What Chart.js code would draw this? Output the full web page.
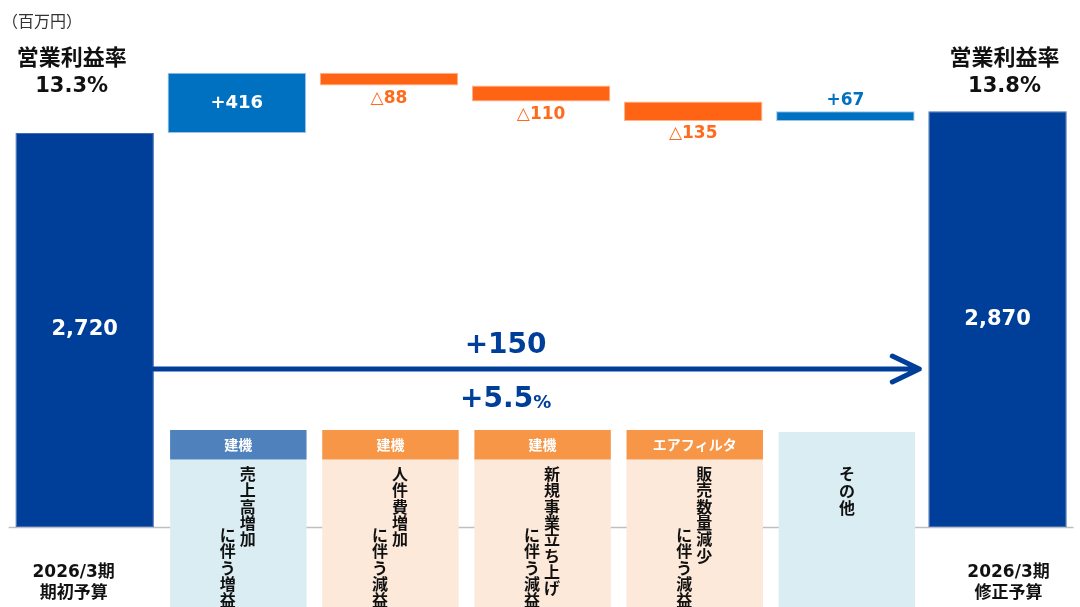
<!DOCTYPE html>
<html lang="ja">
<head>
<meta charset="utf-8">
<title>営業利益 増減要因</title>
<script src="https://cdn.jsdelivr.net/npm/chart.js@4.4.1/dist/chart.umd.min.js"></script>
<style>
    html, body { margin: 0; padding: 0; background: #ffffff; }
    #wrap { width: 1080px; height: 607px; }
</style>
</head>
<body>
<div id="wrap"><canvas id="grafica" width="1080" height="607"></canvas></div>
<script>
// data
var categories = ["2026/3期 期初予算", "売上高増加", "人件費増加", "新規事業立ち上げ", "販売数量減少", "その他", "2026/3期 修正予算"];
var startValue = 2720;
var deltas = [416, -88, -110, -135, 67];
var endValue = 2870;
var marginLabels = ["13.3%", "13.8%"];
var totalLabels = [["2026/3期", "期初予算"], ["2026/3期", "修正予算"]];
var segments = ["建機", "建機", "建機", "エアフィルタ", ""];
var noteLine1 = ["売上高増加", "人件費増加", "新規事業立ち上げ", "販売数量減少", "その他"];
var noteLine2 = ["に伴う増益", "に伴う減益", "に伴う減益", "に伴う減益", ""];

var LATIN = '"DejaVu Sans", "Noto Sans CJK JP", sans-serif';
var CJK = '"Noto Sans CJK JP", sans-serif';

var DARK = "#003f99";
var UP = "#0070c0";
var DOWN = "#ff6414";

function buildRanges() {
    var ranges = [[0, startValue]];
    var level = startValue;
    deltas.forEach(function (d) {
        ranges.push([level, level + d]);
        level += d;
    });
    ranges.push([0, endValue]);
    return ranges;
}

function barColors() {
    var c = [DARK];
    deltas.forEach(function (d) { c.push(d >= 0 ? UP : DOWN); });
    c.push(DARK);
    return c;
}

function barBorders() {
    var c = ["#3f6cb8"];
    deltas.forEach(function (d) { c.push(d >= 0 ? "#9cc3e6" : "#ffb48a"); });
    c.push("#3f6cb8");
    return c;
}

function formatDelta(d) {
    return (d >= 0 ? "+" : "△") + Math.abs(d);
}

function text(ctx, str, x, y, font, color, align) {
    ctx.font = font;
    ctx.fillStyle = color;
    ctx.textAlign = align || "center";
    ctx.textBaseline = "middle";
    ctx.fillText(str, x, y);
}

function verticalText(ctx, str, x, y, pitch) {
    var chars = Array.from(str);
    for (var k = 0; k < chars.length; k++) {
        text(ctx, chars[k], x, y + k * pitch, "bold 16px " + CJK, "#111111");
    }
}

var overlay = {
    id: "overlay",
    beforeDatasetsDraw: function (chart) {
        var ctx = chart.ctx;
        var area = chart.chartArea;
        var y0 = chart.scales.y.getPixelForValue(0);
        ctx.save();
        ctx.strokeStyle = "#bfbfbf";
        ctx.lineWidth = 1.5;
        ctx.beginPath();
        ctx.moveTo(area.left, y0 + 0.5);
        ctx.lineTo(area.right, y0 + 0.5);
        ctx.stroke();
        ctx.restore();
    },
    afterDatasetsDraw: function (chart) {
        var ctx = chart.ctx;
        var yScale = chart.scales.y;
        var bars = chart.getDatasetMeta(0).data;
        var ranges = buildRanges();
        var last = bars.length - 1;
        ctx.save();

        // value labels
        ranges.forEach(function (r, i) {
            var bar = bars[i];
            var top = yScale.getPixelForValue(Math.max(r[0], r[1]));
            var bottom = yScale.getPixelForValue(Math.min(r[0], r[1]));
            if (i === 0 || i === last) {
                var v = i === 0 ? startValue : endValue;
                text(ctx, v.toLocaleString("en-US"), bar.x, (top + bottom) / 2, "bold 21px " + LATIN, "#ffffff");
                return;
            }
            var d = deltas[i - 1];
            if (bottom - top > 40) {
                text(ctx, formatDelta(d), bar.x, (top + bottom) / 2, "bold 18px " + LATIN, "#ffffff");
            } else if (d < 0) {
                text(ctx, formatDelta(d), bar.x, bottom + 13, "bold 17px " + LATIN, "#ff6a1c");
            } else {
                text(ctx, formatDelta(d), bar.x, top - 11, "bold 17px " + LATIN, UP);
            }
        });

        // margin headers above the total bars
        [[0, -13], [last, 7]].forEach(function (p, j) {
            var bx = bars[p[0]].x + p[1];
            text(ctx, "営業利益率", bx, 57, "bold 22px " + CJK, "#111111");
            text(ctx, marginLabels[j], bx, 87, "bold 21px " + LATIN, "#111111");
        });

        // period labels under the total bars
        [[0, -11], [last, 11]].forEach(function (p, j) {
            var bx = bars[p[0]].x + p[1];
            text(ctx, totalLabels[j][0], bx, 573, "bold 17px " + LATIN, "#111111");
            text(ctx, totalLabels[j][1], bx, 592, "bold 17px " + CJK, "#111111");
        });

        // factor boxes
        for (var n = 0; n < deltas.length; n++) {
            var b = bars[n + 1];
            var cx = b.x + 1.5;
            var w = b.width - 2;
            var pos = deltas[n] >= 0;
            var bodyTop = segments[n] ? 459.5 : 432;
            ctx.fillStyle = pos ? "#daedf3" : "#fde9d9";
            ctx.fillRect(cx - w / 2, bodyTop, w, chart.height - bodyTop);
            if (segments[n]) {
                ctx.fillStyle = pos ? "#4f81bd" : "#f79646";
                ctx.fillRect(cx - w / 2, 430, w, 29.5);
                text(ctx, segments[n], cx, 444.5, "bold 14px " + CJK, "#ffffff");
            }
            if (noteLine2[n]) {
                verticalText(ctx, noteLine1[n], cx + 9.5, 474, 16.3);
                verticalText(ctx, noteLine2[n], cx - 10.5, 535, 16.3);
            } else {
                verticalText(ctx, noteLine1[n], cx, 474, 16.8);
            }
        }

        // overall change arrow
        var x1 = bars[0].x + bars[0].width / 2;
        var x2 = bars[last].x - bars[last].width / 2 - 9;
        var ay = 369;
        ctx.strokeStyle = DARK;
        ctx.lineWidth = 5;
        ctx.lineCap = "round";
        ctx.lineJoin = "round";
        ctx.beginPath();
        ctx.moveTo(x1, ay);
        ctx.lineTo(x2, ay);
        ctx.moveTo(x2 - 27, ay - 13);
        ctx.lineTo(x2, ay);
        ctx.lineTo(x2 - 27, ay + 13);
        ctx.stroke();

        var diff = endValue - startValue;
        var pct = (diff / startValue * 100).toFixed(1);
        var mid = (x1 + x2) / 2 - 31;
        text(ctx, "+" + diff, mid, 346, "bold 28px " + LATIN, DARK);
        ctx.font = "bold 28px " + LATIN;
        var pw = ctx.measureText("+" + pct).width;
        var px = mid - (pw + 18) / 2;
        text(ctx, "+" + pct, px, 400, "bold 28px " + LATIN, DARK, "left");
        text(ctx, "%", px + pw, 403, "bold 18px " + LATIN, DARK, "left");

        // unit
        text(ctx, "（百万円）", 2, 21, "16px " + CJK, "#333333", "left");

        ctx.restore();
    }
};

var ctx = document.getElementById("grafica").getContext("2d");
var chart = new Chart(ctx, {
    type: "bar",
    plugins: [overlay],
    data: {
        labels: categories,
        datasets: [
            {
                label: "営業利益",
                data: buildRanges(),
                backgroundColor: barColors(),
                borderColor: barBorders(),
                borderWidth: 1,
                borderSkipped: false,
                barPercentage: 0.91,
                categoryPercentage: 1,
            },
        ],
    },
    options: {
        responsive: false,
        animation: false,
        devicePixelRatio: 1,
        layout: {
            padding: { left: 8.6, right: 6.4, top: 5.5, bottom: 80 },
        },
        scales: {
            x: { display: false },
            y: { display: false, min: 0, max: 3600 },
        },
        plugins: {
            legend: { display: false },
            tooltip: { enabled: false },
        },
    },
});
</script>
</body>
</html>
